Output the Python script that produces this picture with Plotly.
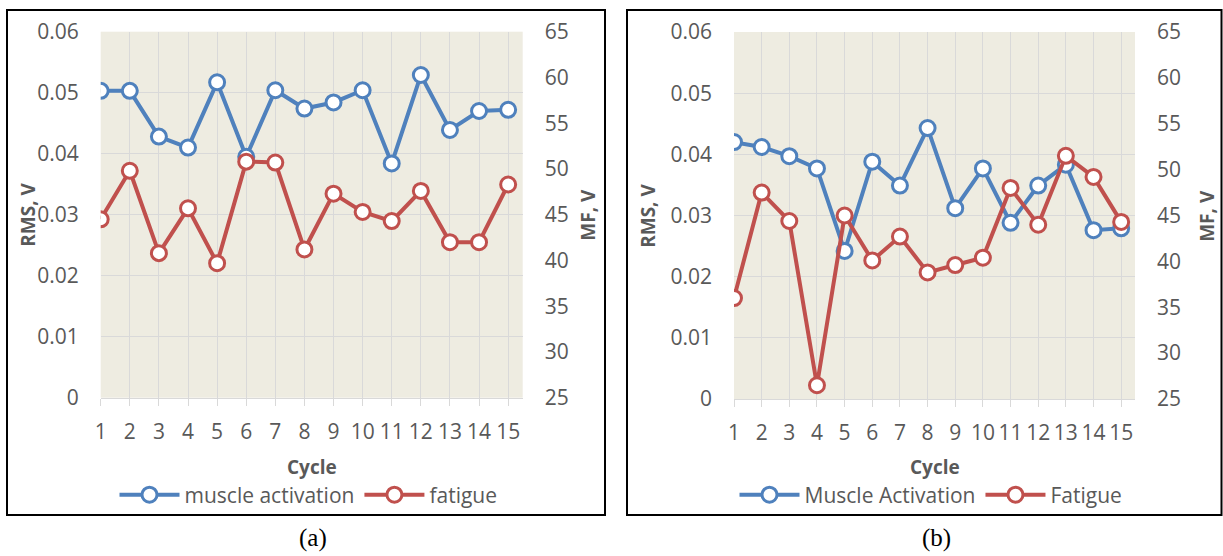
import plotly.graph_objects as go

W, H = 1223, 556

cycles = list(range(1, 16))
rms_a = [0.0503, 0.0503, 0.0428, 0.0410, 0.0517, 0.0395, 0.0504, 0.0474, 0.0484, 0.0504, 0.0384, 0.0529, 0.0439, 0.0470, 0.0472]
mf_a = [44.5, 49.8, 40.8, 45.7, 39.7, 50.8, 50.7, 41.2, 47.3, 45.3, 44.3, 47.6, 42.0, 42.0, 48.3]
rms_b = [0.0420, 0.0412, 0.0397, 0.0377, 0.0242, 0.0388, 0.0349, 0.0443, 0.0312, 0.0377, 0.0288, 0.0349, 0.0383, 0.0276, 0.0279]
mf_b = [36.0, 47.5, 44.4, 26.5, 45.0, 40.1, 42.7, 38.8, 39.6, 40.4, 48.0, 44.0, 51.5, 49.2, 44.3]

rms_ticks = [0, 0.01, 0.02, 0.03, 0.04, 0.05, 0.06]
rms_ticktext = ["0", "0.01", "0.02", "0.03", "0.04", "0.05", "0.06"]
mf_ticks = [25, 30, 35, 40, 45, 50, 55, 60, 65]
mf_ticktext = [str(v) for v in mf_ticks]

BLUE = "#4F81BD"
RED = "#C0504D"
GRID = "#D9D9D9"
TXT = "#595959"
BG = "#EEECE1"
FONT = "Open Sans"


def px(x):
    return x / W


def py(y):
    return 1 - y / H


def series(x, y, name, color, xa, ya, leg):
    return go.Scatter(
        x=x, y=y, name=name, mode="lines+markers",
        line=dict(color=color, width=4),
        marker=dict(symbol="circle", size=15, color="white", line=dict(color=color, width=3)),
        xaxis=xa, yaxis=ya, legend=leg,
    )


fig = go.Figure()
fig.add_trace(series(cycles, rms_a, "muscle activation", BLUE, "x", "y", "legend"))
fig.add_trace(series(cycles, mf_a, "fatigue", RED, "x", "y2", "legend"))
fig.add_trace(series(cycles, rms_b, "Muscle Activation", BLUE, "x2", "y3", "legend2"))
fig.add_trace(series(cycles, mf_b, "Fatigue", RED, "x2", "y4", "legend2"))

tickfont = dict(family=FONT, size=21, color=TXT)


def xax(domain, anchor):
    return dict(
        domain=domain, anchor=anchor, range=[1, 15.5],
        tickmode="array", tickvals=cycles, ticktext=[str(c) for c in cycles],
        showgrid=True, gridcolor=GRID, gridwidth=1.3,
        ticks="outside", ticklen=7, tickcolor=GRID, tickwidth=1.3,
        showline=True, linecolor=GRID, linewidth=1.3,
        zeroline=False, tickfont=tickfont, ticklabelstandoff=8, fixedrange=True,
        automargin=False,
    )


def yax_left(domain, anchor):
    return dict(
        domain=domain, anchor=anchor, range=[0, 0.06],
        tickmode="array", tickvals=rms_ticks, ticktext=rms_ticktext,
        showgrid=True, gridcolor=GRID, gridwidth=1.3, ticks="",
        zeroline=False, showline=False, tickfont=tickfont,
        ticklabelstandoff=21, fixedrange=True, automargin=False,
    )


def yax_right(overlay, anchor):
    return dict(
        overlaying=overlay, side="right", anchor=anchor, range=[25, 65],
        tickmode="array", tickvals=mf_ticks, ticktext=mf_ticktext,
        showgrid=False, ticks="", zeroline=False, showline=False,
        tickfont=tickfont, ticklabelstandoff=21, fixedrange=True, automargin=False,
    )


legfont = dict(family=FONT, size=21, color=TXT)
titlefont = dict(family=FONT, size=19, color=TXT, weight="bold")

fig.update_layout(
    width=W, height=H, margin=dict(l=0, r=0, t=0, b=0, pad=0, autoexpand=False),
    paper_bgcolor="white", plot_bgcolor=BG,
    xaxis=xax([px(100.7), px(522.7)], "y"),
    yaxis=yax_left([py(397.7), py(31.7)], "x"),
    yaxis2=yax_right("y", "x"),
    xaxis2=xax([px(734), px(1135)], "y3"),
    yaxis3=yax_left([py(399), py(32)], "x2"),
    yaxis4=yax_right("y3", "x2"),
    legend=dict(orientation="h", x=px(308.5), xanchor="center", y=py(495), yanchor="middle",
                font=legfont, bgcolor="rgba(0,0,0,0)", itemwidth=60),
    legend2=dict(orientation="h", x=px(931), xanchor="center", y=py(495), yanchor="middle",
                 font=legfont, bgcolor="rgba(0,0,0,0)", itemwidth=60),
    showlegend=True,
)

# chart frames
for x0, x1 in [(7, 605), (627, 1221.5)]:
    fig.add_shape(type="rect", xref="paper", yref="paper",
                  x0=px(x0), x1=px(x1), y0=py(515), y1=py(10),
                  line=dict(color="black", width=2), fillcolor="rgba(0,0,0,0)", layer="below")

ann = [
    ("RMS, V", 28, 214.7, -90, titlefont),
    ("MF, V", 588, 214.7, -90, titlefont),
    ("Cycle", 311.7, 467, 0, titlefont),
    ("RMS, V", 648.3, 215.5, -90, titlefont),
    ("MF, V", 1207.3, 215.5, -90, titlefont),
    ("Cycle", 934.5, 467, 0, titlefont),
    ("(a)", 313, 538, 0, dict(family="Liberation Serif", size=25, color="black")),
    ("(b)", 936, 538, 0, dict(family="Liberation Serif", size=25, color="black")),
]
for text, x, y, ang, f in ann:
    fig.add_annotation(text=text, x=px(x), y=py(y), xref="paper", yref="paper",
                       xanchor="center", yanchor="middle", showarrow=False,
                       textangle=ang, font=f)

fig.write_html("out.html", config={"displayModeBar": False},
               post_script="document.body.style.margin='0';")
